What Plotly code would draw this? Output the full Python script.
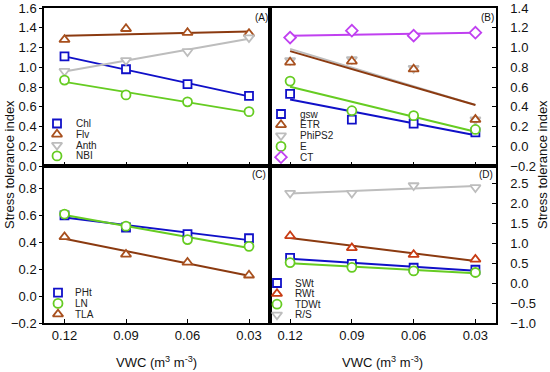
import numpy as np
import plotly.graph_objects as go

# ---------------- data ----------------
vwc = [0.12, 0.09, 0.06, 0.03]
vwc_ticklabels = ["0.12", "0.09", "0.06", "0.03"]

# Panel A
chl = [1.11, 0.98, 0.83, 0.71]
flv = [1.28, 1.39, 1.35, 1.34]
anth = [0.96, 1.07, 1.16, 1.30]
nbi = [0.87, 0.72, 0.65, 0.55]
# Panel B
gsw = [0.53, 0.27, 0.23, 0.14]
etr = [0.85, 0.86, 0.78, 0.27]
phips2 = [0.87, 0.88, 0.79, 0.27]
e_vals = [0.66, 0.36, 0.31, 0.17]
ct = [1.10, 1.17, 1.12, 1.15]
# Panel C
pht = [0.60, 0.51, 0.46, 0.43]
ln = [0.61, 0.52, 0.42, 0.37]
tla = [0.44, 0.31, 0.25, 0.155]
# Panel D
swt = [0.64, 0.49, 0.39, 0.34]
rwt = [1.19, 0.89, 0.72, 0.60]
tdwt = [0.52, 0.40, 0.31, 0.27]
rs = [2.27, 2.27, 2.46, 2.41]

panel_labels = ["(A)", "(B)", "(C)", "(D)"]
y_title = "Stress tolerance index"
x_title = "VWC (m<sup>3</sup> m<sup>-3</sup>)"

# ---------------- styles ----------------
BLUE = "#1010C8"
BROWN_M = "#A8501E"
BROWN_L = "#8B3A10"
GRAY = "#BDBDBD"
GREEN = "#66CC22"
PURPLE = "#C040F0"
RED = "#C83C14"

SYM = {"sq": "square", "tu": "triangle-up", "td": "triangle-down",
       "ci": "circle", "di": "diamond"}
MSIZE = {"sq": 8, "tu": 9, "td": 9, "ci": 9, "di": 9}

# (panel, name, values, symbol, marker colour, line colour)
series = [
    (0, "Chl", chl, "sq", BLUE, BLUE),
    (0, "Flv", flv, "tu", BROWN_M, BROWN_L),
    (0, "Anth", anth, "td", GRAY, GRAY),
    (0, "NBI", nbi, "ci", GREEN, GREEN),
    (1, "gsw", gsw, "sq", BLUE, BLUE),
    (1, "ETR", etr, "tu", BROWN_M, BROWN_L),
    (1, "PhiPS2", phips2, "td", GRAY, GRAY),
    (1, "E", e_vals, "ci", GREEN, GREEN),
    (1, "CT", ct, "di", PURPLE, PURPLE),
    (2, "PHt", pht, "sq", BLUE, BLUE),
    (2, "LN", ln, "ci", GREEN, GREEN),
    (2, "TLA", tla, "tu", BROWN_M, BROWN_L),
    (3, "SWt", swt, "sq", BLUE, BLUE),
    (3, "RWt", rwt, "tu", RED, BROWN_L),
    (3, "TDWt", tdwt, "ci", GREEN, GREEN),
    (3, "R/S", rs, "td", GRAY, GRAY),
]

FONT = "Liberation Sans, Arial, sans-serif"
W, H = 550, 372
L, R, T, B = 44, 496, 8, 323         # plot area in pixels
XM, YM = 269.5, 166                  # panel boundaries
dx = (XM - L) / (R - L)
dy = (B - YM) / (B - T)

XRANGE = [0.13, 0.02]
YRANGES = [[0, 1.6], [-0.2, 1.4], [-0.2, 0.967], [-1.0, 2.95]]
PX_BOX = [(L, XM, T, YM), (XM, R, T, YM), (L, XM, YM, B), (XM, R, YM, B)]
axes = [("x", "y"), ("x2", "y2"), ("x3", "y3"), ("x4", "y4")]


def px_to_data(p, px, py):
    x0, x1, y0, y1 = PX_BOX[p]
    xd = XRANGE[0] + (px - x0) / (x1 - x0) * (XRANGE[1] - XRANGE[0])
    yd = YRANGES[p][0] + (y1 - py) / (y1 - y0) * (YRANGES[p][1] - YRANGES[p][0])
    return xd, yd


def px_to_paper(px, py):
    return (px - L) / (R - L), (B - py) / (B - T)


fig = go.Figure()

draw_order = sorted(range(len(series)), key=lambda i: 0 if series[i][1] == "PhiPS2" else 1)

# regression lines
for i in draw_order:
    p, name, vals, sym, mc, lc = series[i]
    xa, ya = axes[p]
    slope, icpt = np.polyfit(vwc, vals, 1)
    xs = [vwc[0], vwc[-1]]
    fig.add_trace(go.Scatter(x=xs, y=[float(slope * v + icpt) for v in xs], mode="lines",
                             line=dict(color=lc, width=2), xaxis=xa, yaxis=ya,
                             showlegend=False, hoverinfo="skip"))
# markers
for i in draw_order:
    p, name, vals, sym, mc, lc = series[i]
    xa, ya = axes[p]
    fig.add_trace(go.Scatter(x=vwc, y=vals, mode="markers", name=name,
                             marker=dict(symbol=SYM[sym], size=MSIZE[sym], color="white",
                                         line=dict(color=mc, width=1.8)),
                             xaxis=xa, yaxis=ya, showlegend=False))

# ---------- legends ----------
legend_pos = {0: (57, 74, 123.5, 10.8), 1: (281, 298, 114, 10.8),
              2: (58, 73, 292.7, 10.7), 3: (277, 293, 283, 10.6)}
counters = {0: 0, 1: 0, 2: 0, 3: 0}
for (p, name, vals, sym, mc, lc) in series:
    mx, tx, y0, step = legend_pos[p]
    yy = y0 + counters[p] * step
    counters[p] += 1
    xa, ya = axes[p]
    lx, ly = px_to_data(p, mx, yy)
    fig.add_trace(go.Scatter(x=[lx], y=[ly], mode="markers", xaxis=xa, yaxis=ya,
                             marker=dict(symbol=SYM[sym], size=MSIZE[sym], color="white",
                                         line=dict(color=mc, width=1.8)),
                             showlegend=False, hoverinfo="skip"))
    ax_, ay_ = px_to_paper(tx, yy)
    fig.add_annotation(x=ax_, y=ay_, xref="paper", yref="paper", text=name, showarrow=False,
                       xanchor="left", yanchor="middle",
                       font=dict(family=FONT, size=10, color="#222"))

common_ax = dict(showline=True, linecolor="black", linewidth=1.5, mirror=True,
                 showgrid=False, zeroline=False, automargin=False,
                 tickfont=dict(family=FONT, size=13, color="#111"))
xcommon = dict(common_ax, range=XRANGE, tickvals=vwc, ticktext=vwc_ticklabels,
               ticks="inside", ticklen=4, tickcolor="black")

fig.update_layout(
    width=W, height=H,
    margin=dict(l=L, r=W - R, t=T, b=H - B, pad=0, autoexpand=False),
    paper_bgcolor="white", plot_bgcolor="white",
    showlegend=False,
    xaxis=dict(xcommon, domain=[0, dx], anchor="y", showticklabels=False),
    xaxis2=dict(xcommon, domain=[dx, 1], anchor="y2", showticklabels=False),
    xaxis3=dict(xcommon, domain=[0, dx], anchor="y3"),
    xaxis4=dict(xcommon, domain=[dx, 1], anchor="y4"),
    yaxis=dict(common_ax, domain=[dy, 1], anchor="x", range=YRANGES[0],
               tickvals=[round(0.2 * k, 1) for k in range(9)], tickformat=".1f",
               ticks="outside", ticklen=3, tickcolor="black"),
    yaxis2=dict(common_ax, domain=[dy, 1], anchor="x2", side="right", range=YRANGES[1],
                tickvals=[round(-0.2 + 0.2 * k, 1) for k in range(9)], tickformat=".1f",
                ticks="inside", ticklen=4, tickcolor="black", ticklabelstandoff=10),
    yaxis3=dict(common_ax, domain=[0, dy], anchor="x3", range=YRANGES[2],
                tickvals=[round(-0.2 + 0.2 * k, 1) for k in range(6)], tickformat=".1f",
                ticks="outside", ticklen=3, tickcolor="black"),
    yaxis4=dict(common_ax, domain=[0, dy], anchor="x4", side="right", range=YRANGES[3],
                tickvals=[-1.0 + 0.5 * k for k in range(8)], tickformat=".1f",
                ticks="inside", ticklen=4, tickcolor="black", ticklabelstandoff=10),
)

# panel labels
label_pos = [(261.5, 17), (487.5, 17), (259, 174), (486, 174)]
for lab, (lx, ly) in zip(panel_labels, label_pos):
    ax_, ay_ = px_to_paper(lx, ly)
    fig.add_annotation(x=ax_, y=ay_, xref="paper", yref="paper", text=lab, showarrow=False,
                       xanchor="center", yanchor="middle",
                       font=dict(family=FONT, size=10, color="#111"))

# axis titles
for tx in [9, 542]:
    ax_, ay_ = px_to_paper(tx, 165)
    fig.add_annotation(x=ax_, y=ay_, xref="paper", yref="paper",
                       text=y_title, textangle=-90, showarrow=False,
                       xanchor="center", yanchor="middle",
                       font=dict(family=FONT, size=13, color="#111"))
for cx in [156.7, 382.5]:
    ax_, ay_ = px_to_paper(cx, 362)
    fig.add_annotation(x=ax_, y=ay_, xref="paper", yref="paper",
                       text=x_title, showarrow=False, xanchor="center", yanchor="middle",
                       font=dict(family=FONT, size=13, color="#111"))

fig.write_html("out.html", config={"displayModeBar": False},
               post_script="document.body.style.margin='0';")
